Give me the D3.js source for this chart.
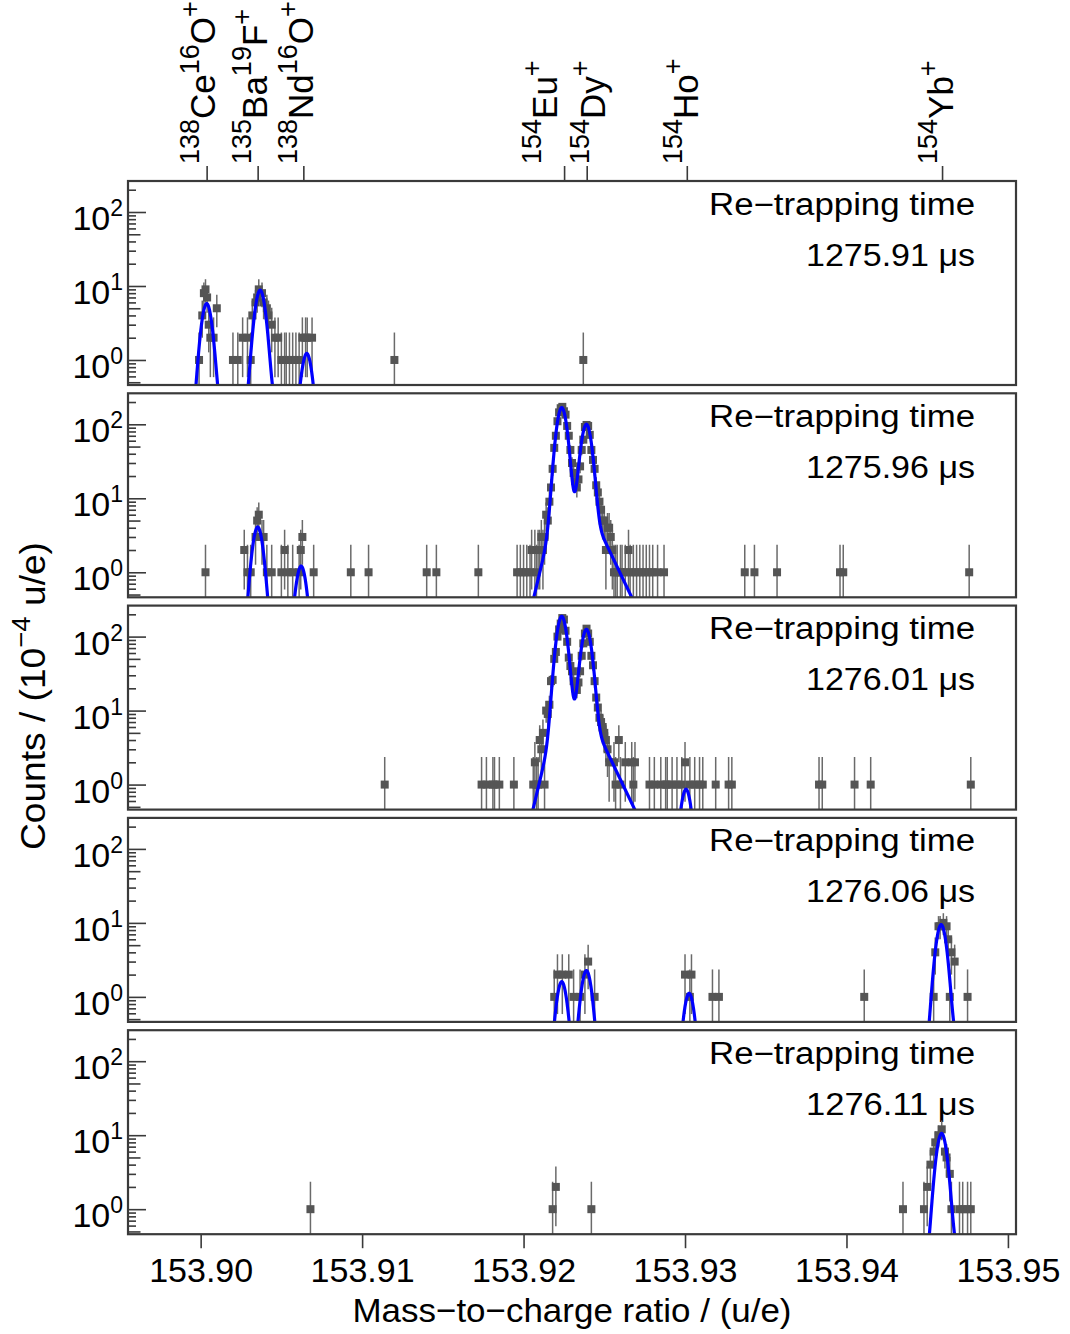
<!DOCTYPE html>
<html><head><meta charset="utf-8">
<script src="https://cdn.jsdelivr.net/npm/d3@7"></script>
<style>
body{margin:0;background:#fff}
text{font-family:"Liberation Sans",Arial,Helvetica,sans-serif;fill:#000}
</style>
</head><body>
<svg id="chart" width="1070" height="1334"></svg>
<script>
// ---------------- data ----------------
const xTickValues = [153.90, 153.91, 153.92, 153.93, 153.94, 153.95];
const xTickLabels = ["153.90", "153.91", "153.92", "153.93", "153.94", "153.95"];
const yMajorValues = [1, 10, 100];
const yMajorExponents = ["0", "1", "2"];
const yMinorValues = [0.5,0.6,0.7,0.8,0.9,2,3,4,5,6,7,8,9,20,30,40,50,60,70,80,90,200];

const isoMasses = [153.90037, 153.90353, 153.90636, 153.92251, 153.92391, 153.93011, 153.94592];
const isoLabels = ["^{138}Ce^{16}O^{+}", "^{135}Ba^{19}F^{+}", "^{138}Nd^{16}O^{+}",
                   "^{154}Eu^{+}", "^{154}Dy^{+}", "^{154}Ho^{+}", "^{154}Yb^{+}"];

const retrapTimes = ["1275.91 μs", "1275.96 μs", "1276.01 μs", "1276.06 μs", "1276.11 μs"];

// panel 1 (1275.91 us)
const mass1 = [153.8999,153.9001,153.9002,153.9003,153.9004,153.9005,153.9006,153.9008,153.9010,
  153.9020,153.9023,153.9026,153.9029,153.9031,153.9032,153.9034,153.9035,153.9036,153.9038,153.9039,
  153.9041,153.9042,153.9044,153.9046,153.9048,
  153.9050,153.9052,153.9053,153.9055,153.9057,153.9059,153.9061,
  153.9063,153.9065,153.9066,153.9069,
  153.9120,153.9237];
const counts1 = [1,4,8,9,7,3,2,2,5,
  1,1,2,2,1,4,6,7,9,8,6,
  5,4,3,2,2,
  1,1,1,1,1,1,1,
  2,2,2,2,
  1,1];

// panel 2 (1275.96 us)
const mass2 = [153.9003,153.9027,153.9029,153.9031,153.9034,153.9035,153.9036,153.9038,153.9039,153.9041,
  153.9044,153.9050,153.9052,153.9054,153.9057,153.9061,153.9062,153.9063,153.9070,153.9093,
  153.9104,153.9140,153.9146,153.9172,
  153.9196,153.9198,153.9200,153.9202,153.9204,153.9205,153.9207,153.9208,153.9209,153.9210,153.9211,153.9212,
  153.9213,153.9214,153.9215,153.9216,153.9217,153.9218,153.9219,153.9220,153.9221,153.9222,
  153.9223,153.9224,153.9225,153.9226,153.9227,153.9228,153.9229,153.9230,153.9231,153.9232,
  153.9233,153.9234,153.9235,153.9236,153.9237,153.9238,153.9239,153.9240,153.9241,153.9242,
  153.9243,153.9244,153.9245,153.9246,153.9247,153.9248,153.9249,153.9250,153.9251,153.9252,
  153.9253,153.9254,153.9255,153.9256,
  153.9257,153.9258,153.9260,153.9261,153.9263,153.9265,153.9266,153.9268,153.9270,153.9272,
  153.9274,153.9276,153.9278,153.9280,153.9283,153.9287,
  153.9337,153.9343,153.9357,153.9396,153.9398,153.9476];
const counts2 = [1,2,1,1,3,5,6,3,3,1,
  1,1,2,1,1,1,2,3,1,1,
  1,1,1,1,
  1,1,1,1,1,2,2,1,2,2,3,2,
  3,6,5,9,14,25,48,70,110,145,
  165,172,150,135,95,70,45,30,22,17,
  14,18,27,45,62,92,98,95,72,45,
  33,25,15,12,9,7,5,5,2,4,
  4,3,2,1,
  1,1,1,1,1,2,1,1,1,1,
  1,1,1,1,1,1,
  1,1,1,1,1,1];

// panel 3 (1276.01 us)
const mass3 = [153.9114,153.9174,153.9177,153.9181,153.9182,153.9185,153.9194,
  153.9206,153.9207,153.9208,153.9209,153.9210,153.9211,153.9212,153.9213,
  153.9214,153.9215,153.9216,153.9217,153.9218,153.9219,153.9220,153.9221,153.9222,153.9223,
  153.9224,153.9225,153.9226,153.9227,153.9228,153.9229,153.9230,153.9231,153.9232,153.9233,
  153.9234,153.9235,153.9236,153.9237,153.9238,153.9239,153.9240,153.9241,153.9242,153.9243,
  153.9244,153.9245,153.9246,153.9247,153.9248,153.9249,153.9250,153.9251,153.9252,153.9253,
  153.9256,153.9257,153.9259,153.9260,153.9263,153.9267,153.9268,153.9269,
  153.9278,153.9281,153.9285,153.9288,153.9289,153.9292,153.9295,153.9298,153.9300,153.9303,
  153.9306,153.9309,153.9311,153.9319,153.9327,153.9329,
  153.9383,153.9385,153.9405,153.9415,153.9477];
const counts3 = [1,1,1,1,1,1,1,
  1,2,1,1,4,3,5,1,
  10,9,12,25,26,50,62,100,125,150,
  178,170,120,85,52,40,34,25,20,19,
  24,34,55,81,110,128,110,85,55,41,
  25,15,11,8,7,6,5,4,3,2,
  2,1,4,1,2,2,1,2,
  1,1,1,1,1,1,1,1,2,1,
  1,1,1,1,1,1,
  1,1,1,1,1];

// panel 4 (1276.06 us)
const mass4 = [153.9219,153.9221,153.9224,153.9228,153.9231,153.9235,153.9238,153.9240,153.9244,
  153.9300,153.9303,153.9304,153.9317,153.9321,153.9411,
  153.9454,153.9455,153.9457,153.9458,153.9460,153.9462,153.9463,153.9464,153.9465,153.9467,153.9475];
const counts4 = [1,2,2,2,1,1,2,3,1,
  2,1,2,1,1,1,
  1,4,9,9,10,9,6,1,4,3,1];

// panel 5 (1276.11 us)
const mass5 = [153.9068,153.9218,153.9220,153.9242,153.9435,
  153.9448,153.9450,153.9452,153.9454,153.9455,153.9457,153.9459,153.9461,153.9462,153.9464,
  153.9465,153.9470,153.9472,153.9475,153.9477];
const counts5 = [1,1,2,1,1,
  1,2,4,6,8,10,12,6,5,3,
  1,1,1,1,1];

// fit components: centres (u/e) and peak heights (counts)
const fitCenters1 = [153.90037, 153.90368, 153.90657];
const fitAmps1    = [5.8, 8.8, 1.2];
const fitCenters2 = [153.90353, 153.90622, 153.92236, 153.92389];
const fitAmps2    = [4.1, 1.2, 168, 98];
const fitCenters3 = [153.92236, 153.92389, 153.93006];
const fitAmps3    = [188, 123, 0.85];
const fitCenters4 = [153.92236, 153.92389, 153.93025, 153.94586];
const fitAmps4    = [1.6, 2.25, 1.12, 9.5];
const fitCenters5 = [153.94589];
const fitAmps5    = [10.6];

// peak shape (Gaussian core with exponential tails), in u/e
const peakSigma = 0.000278, tailLeft = 0.000476, tailRight = 0.000952;
const weightLeft = 0.12, weightRight = 0.08;

// ---------------- layout ----------------
const panels = [
  {mass: mass1, counts: counts1, fc: fitCenters1, fa: fitAmps1},
  {mass: mass2, counts: counts2, fc: fitCenters2, fa: fitAmps2},
  {mass: mass3, counts: counts3, fc: fitCenters3, fa: fitAmps3},
  {mass: mass4, counts: counts4, fc: fitCenters4, fa: fitAmps4},
  {mass: mass5, counts: counts5, fc: fitCenters5, fa: fitAmps5}
];
const X0 = 128, X1 = 1016;
const panelTops = [181, 393.3, 605.6, 817.9, 1030.2];
const panelH = 204;
const yDomain = [0.459, 262.4];
const isoLabelDx = [8, 9, 10, -7, 18, 11, 11];

const svg = d3.select("#chart");
svg.append("rect").attr("width", 1070).attr("height", 1334).attr("fill", "#fff");
const defs = svg.append("defs");

const x = d3.scaleLinear().domain([153.8955, 153.9505]).range([X0, X1]);

function shape(d) {
  const g = Math.exp(-d * d / (2 * peakSigma * peakSigma));
  const l = d < 0 ? Math.exp(d / tailLeft) : g;
  const r = d > 0 ? Math.exp(-d / tailRight) : g;
  return (g + weightLeft * l + weightRight * r) / (1 + weightLeft + weightRight);
}

const grid = d3.range(153.8955, 153.9505, 0.000005);
const FRAME = "#3a3a3a";

panels.forEach((p, i) => {
  const top = panelTops[i], bot = top + panelH;
  const y = d3.scaleLog().domain(yDomain).range([bot, top]);
  const g = svg.append("g");

  defs.append("clipPath").attr("id", "clip" + i)
    .append("rect").attr("x", X0).attr("y", top).attr("width", X1 - X0).attr("height", panelH);

  // labels
  g.append("text").attr("x", 975).attr("y", top + 33.5).attr("text-anchor", "end")
    .attr("font-size", 31).attr("textLength", 266).attr("lengthAdjust", "spacingAndGlyphs")
    .text("Re\u2212trapping time");
  g.append("text").attr("x", 975).attr("y", top + 84.5).attr("text-anchor", "end")
    .attr("font-size", 31).attr("textLength", 169).attr("lengthAdjust", "spacingAndGlyphs")
    .text(retrapTimes[i]);

  const dg = g.append("g").attr("clip-path", `url(#clip${i})`);
  const pts = p.mass.map((m, k) => ({m, n: p.counts[k]}));
  // error bars
  dg.selectAll("line.err").data(pts).join("line").attr("class", "err")
    .attr("x1", d => x(d.m)).attr("x2", d => x(d.m))
    .attr("y1", d => y(Math.max(d.n - Math.sqrt(d.n), yDomain[0] * 0.5)))
    .attr("y2", d => y(d.n + Math.sqrt(d.n) + 0.35))
    .attr("stroke", "#6a6a6a").attr("stroke-width", 1.5);
  // markers
  dg.selectAll("rect.pt").data(pts).join("rect").attr("class", "pt")
    .attr("x", d => x(d.m) - 4).attr("y", d => y(d.n) - 4)
    .attr("width", 8).attr("height", 8).attr("fill", "#555");

  // fit curve
  const fitVal = m => d3.sum(p.fc, (c, k) => p.fa[k] * shape(m - c));
  const line = d3.line().x(m => x(m)).y(m => y(Math.max(fitVal(m), 0.2)));
  dg.append("path").attr("d", line(grid)).attr("fill", "none")
    .attr("stroke", "#0000ff").attr("stroke-width", 3.2).attr("stroke-linejoin", "round");

  // y axis ticks (inside)
  const ax = g.append("g").attr("transform", `translate(${X0},0)`);
  const allTicks = yMajorValues.concat(yMinorValues);
  ax.call(d3.axisRight(y).tickValues(allTicks).tickFormat("").tickSize(8));
  ax.select(".domain").remove();
  ax.selectAll(".tick line").attr("stroke", FRAME).attr("stroke-width", 1.6)
    .attr("x2", d => yMajorValues.includes(d) ? 18 : (d === 5 || d === 50 || d === 0.5 ? 12.5 : 8));

  // y tick labels
  yMajorValues.forEach((v, k) => {
    const t = g.append("text").attr("x", 123).attr("y", y(v) + 18).attr("text-anchor", "end")
      .attr("font-size", 34);
    t.append("tspan").text("10");
    t.append("tspan").attr("font-size", 23).attr("dy", -14).text(yMajorExponents[k]);
  });

  // frame
  g.append("rect").attr("x", X0).attr("y", top).attr("width", X1 - X0).attr("height", panelH)
    .attr("fill", "none").attr("stroke", FRAME).attr("stroke-width", 2.2);
});

// bottom x axis
const lastBot = panelTops[4] + panelH;
const xa = svg.append("g").attr("transform", `translate(0,${lastBot})`)
  .call(d3.axisBottom(x).tickValues(xTickValues).tickFormat((d, k) => xTickLabels[k]).tickSize(14).tickPadding(10));
xa.select(".domain").remove();
xa.selectAll(".tick line").attr("stroke", FRAME).attr("stroke-width", 1.6);
xa.selectAll(".tick text").attr("font-size", 34).attr("fill", "#000")
  .attr("font-family", "'Liberation Sans',Arial,sans-serif");

// top isotope axis
const ta = svg.append("g").attr("transform", `translate(0,${panelTops[0]})`)
  .call(d3.axisTop(x).tickValues(isoMasses).tickFormat("").tickSize(15));
ta.select(".domain").remove();
ta.selectAll(".tick line").attr("stroke", FRAME).attr("stroke-width", 1.6);

isoLabels.forEach((lab, k) => {
  const t = svg.append("text")
    .attr("transform", `translate(${x(isoMasses[k]) + isoLabelDx[k]},164) rotate(-90)`)
    .attr("text-anchor", "start").attr("font-size", 35);
  const re = /\^\{([^}]*)\}|([^^]+)/g;
  let mm, shift = 0;
  while ((mm = re.exec(lab)) !== null) {
    if (mm[1] !== undefined) {
      t.append("tspan").attr("font-size", 27).attr("dy", -16 - shift).text(mm[1]);
      shift = -16;
    } else {
      t.append("tspan").attr("font-size", 35).attr("dy", -shift).text(mm[2]);
      shift = 0;
    }
  }
});

// axis titles
svg.append("text").attr("x", 572).attr("y", 1322).attr("text-anchor", "middle")
  .attr("font-size", 34).attr("textLength", 439).attr("lengthAdjust", "spacingAndGlyphs")
  .text("Mass\u2212to\u2212charge ratio / (u/e)");

const yt = svg.append("text").attr("transform", "translate(45,696) rotate(-90)")
  .attr("text-anchor", "middle").attr("font-size", 35)
  .attr("textLength", 308).attr("lengthAdjust", "spacingAndGlyphs");
yt.append("tspan").text("Counts / (10");
yt.append("tspan").attr("font-size", 26).attr("dy", -15).text("\u22124");
yt.append("tspan").attr("dy", 15).text(" u/e)");
</script>
</body></html>
